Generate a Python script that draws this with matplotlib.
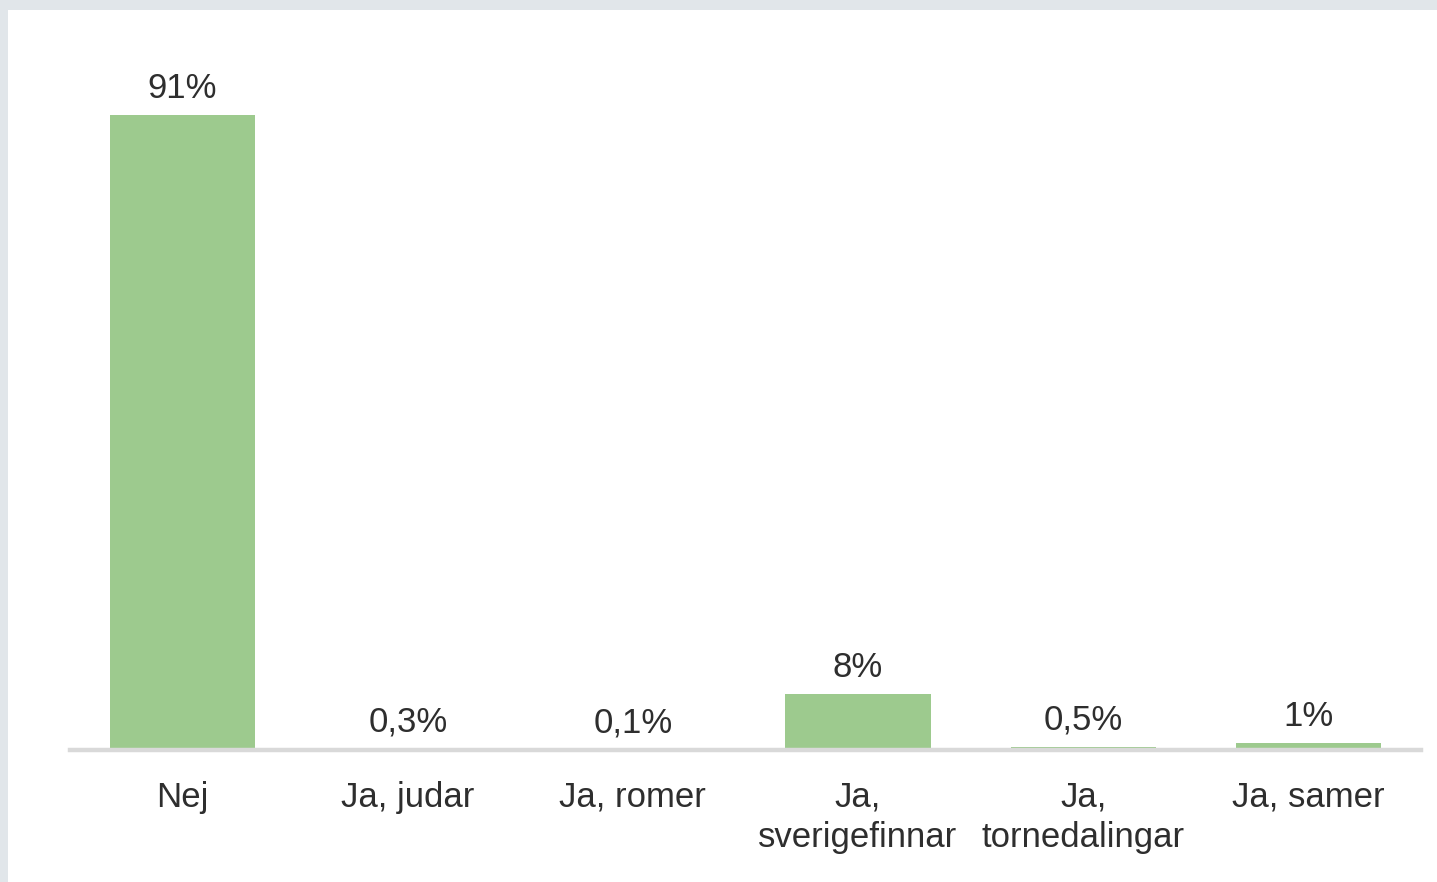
import matplotlib.pyplot as plt

# --- Data ---
categories = ['Nej', 'Ja, judar', 'Ja, romer', 'Ja,\nsverigefinnar',
              'Ja,\ntornedalingar', 'Ja, samer']
values = [91, 0.3, 0.1, 8, 0.5, 1]
value_labels = ['91%', '0,3%', '0,1%', '8%', '0,5%', '1%']

plt.rcParams['font.family'] = ['Liberation Sans', 'DejaVu Sans']

fig = plt.figure(figsize=(14.37, 8.82), dpi=100)
fig.patch.set_facecolor('#e1e6ea')

# white panel inside the grey frame
panel = fig.add_axes([8 / 1437, 0, 1 - 8 / 1437, 1 - 10 / 882])
panel.set_facecolor('white')
panel.set_xticks([])
panel.set_yticks([])
for s in panel.spines.values():
    s.set_visible(False)

ax = fig.add_axes([70 / 1437, 132 / 882, 1351 / 1437, 698 / 882])
ax.set_facecolor('none')

x = range(len(categories))
ax.bar(x, values, width=0.645, color='#9dca8e', zorder=2)

for i, (v, lab) in enumerate(zip(values, value_labels)):
    ax.annotate(lab, (i, v), xytext=(0, 12), textcoords='offset points',
                ha='center', va='baseline', fontsize=25, color='#2e2e2e')

ax.set_xlim(-0.5, len(categories) - 0.5)
ax.set_ylim(0, 100)
ax.set_yticks([])
ax.set_xticks(list(x))
ax.set_xticklabels(categories, fontsize=25, color='#2e2e2e', linespacing=1.27)
ax.tick_params(axis='x', length=0, pad=22)

for side in ['top', 'right', 'left']:
    ax.spines[side].set_visible(False)
ax.spines['bottom'].set_color('#d9d9d9')
ax.spines['bottom'].set_linewidth(3.2)
ax.spines['bottom'].set_zorder(3)

plt.savefig('out.png', dpi=100, facecolor=fig.get_facecolor())
